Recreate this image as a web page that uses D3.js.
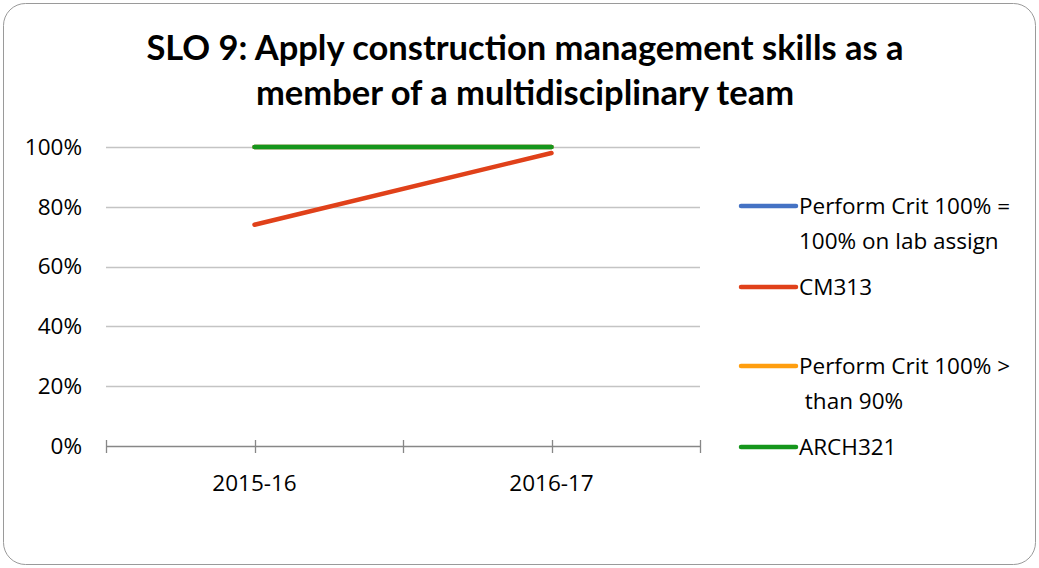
<!DOCTYPE html>
<html>
<head>
<meta charset="utf-8">
<script src="https://cdn.jsdelivr.net/npm/d3@7"></script>
<style>
  html, body { margin: 0; padding: 0; background: #fff; }
  svg { display: block; }
</style>
</head>
<body>
<div id="chart"></div>
<script>
// chart data
const categories = ['2015-16', '2016-17'];
const seriesNames = ['Perform Crit 100% = 100% on lab assign', 'CM313', 'Perform Crit 100% > than 90%', 'ARCH321'];
const perfCritLab = [1.00, 1.00];
const cm313 = [0.74, 0.98];
const perfCrit90 = [1.00, 1.00];
const arch321 = [1.00, 1.00];
const yTicks = [0, 0.2, 0.4, 0.6, 0.8, 1.0];
const legendLines = [
    ['Perform Crit 100% =', '100% on lab assign'],
    ['CM313'],
    ['Perform Crit 100% >', '\u00a0than 90%'],
    ['ARCH321']
];

const colors = ['#4472c4', '#e0411a', '#ff9e0f', '#15961c'];
const allSeries = [perfCritLab, cm313, perfCrit90, arch321];

const width = 1039, height = 568;
const font = "'Open Sans', sans-serif";
const fontSize = '22.5px';

const svg = d3.select('#chart')
    .append('svg')
    .attr('width', width)
    .attr('height', height);

// outer frame
svg.append('rect')
    .attr('x', 3.5).attr('y', 3.5)
    .attr('width', width - 7).attr('height', height - 7)
    .attr('rx', 22).attr('ry', 22)
    .attr('fill', '#fff')
    .attr('stroke', '#9a9a9a')
    .attr('stroke-width', 1);

// title
const title = svg.append('text')
    .attr('text-anchor', 'middle')
    .attr('fill', '#000')
    .style('font-family', "Lato, sans-serif")
    .style('font-weight', 'bold')
    .style('font-size', '34.5px');
title.append('tspan').attr('x', 525).attr('y', 60).text('SLO 9: Apply construction management skills as a');
title.append('tspan').attr('x', 525).attr('y', 105).text('member of a multidisciplinary team');

// scales
const x = d3.scaleBand().domain(categories).range([106, 700]);
const y = d3.scaleLinear().domain([0, 1]).range([446, 147]);

// gridlines
svg.append('g')
    .selectAll('line')
    .data(yTicks.filter(d => d > 0))
    .enter()
    .append('line')
    .attr('x1', 106).attr('x2', 700)
    .attr('y1', d => Math.round(y(d)) + 0.5)
    .attr('y2', d => Math.round(y(d)) + 0.5)
    .attr('stroke', '#c4c4c4')
    .attr('stroke-width', 1.3);

// y axis labels
const yAxis = svg.append('g')
    .attr('transform', 'translate(106,0)')
    .call(d3.axisLeft(y).tickValues(yTicks).tickFormat(d3.format('.0%')).tickSize(0).tickPadding(24));
yAxis.select('.domain').remove();
yAxis.selectAll('text')
    .style('font-family', font)
    .style('font-size', fontSize)
    .attr('fill', '#000');

// x axis with ticks at category centres and boundaries
const tickPos = [];
categories.forEach((c, i) => {
    tickPos.push(x(c));
    tickPos.push(x(c) + x.bandwidth() / 2);
});
tickPos.push(700);
const xAxisG = svg.append('g');
xAxisG.append('line')
    .attr('x1', 106).attr('x2', 700)
    .attr('y1', y(0) + 0.5).attr('y2', y(0) + 0.5)
    .attr('stroke', '#878787').attr('stroke-width', 1.3);
xAxisG.selectAll('line.tick')
    .data(tickPos)
    .enter()
    .append('line')
    .attr('class', 'tick')
    .attr('x1', d => Math.round(d) + 0.5).attr('x2', d => Math.round(d) + 0.5)
    .attr('y1', y(0) - 6).attr('y2', y(0) + 7)
    .attr('stroke', '#878787').attr('stroke-width', 1.3);
xAxisG.selectAll('text')
    .data(categories)
    .enter()
    .append('text')
    .attr('x', d => x(d) + x.bandwidth() / 2)
    .attr('y', 491)
    .attr('text-anchor', 'middle')
    .style('font-family', font)
    .style('font-size', fontSize)
    .attr('fill', '#000')
    .text(d => d);

// lines
const line = d3.line()
    .defined(d => d != null)
    .x((d, i) => x(categories[i]) + x.bandwidth() / 2)
    .y(d => y(d));

svg.append('g')
    .selectAll('path')
    .data(allSeries)
    .enter()
    .append('path')
    .attr('d', d => line(d))
    .attr('fill', 'none')
    .attr('stroke', (d, i) => colors[i])
    .attr('stroke-width', 4.5)
    .attr('stroke-linecap', 'round')
    .attr('stroke-linejoin', 'round');

// legend
const legendY = [206, 287, 366, 447];
const legend = svg.append('g')
    .selectAll('g')
    .data(seriesNames)
    .enter()
    .append('g')
    .attr('transform', (d, i) => `translate(0,${legendY[i]})`);

legend.append('line')
    .attr('x1', 741).attr('x2', 796)
    .attr('y1', 0).attr('y2', 0)
    .attr('stroke', (d, i) => colors[i])
    .attr('stroke-width', 4.5)
    .attr('stroke-linecap', 'round');

legend.each(function(d, i) {
    const t = d3.select(this).append('text')
        .attr('x', 799)
        .attr('y', 8)
        .style('font-family', font)
        .style('font-size', fontSize)
        .attr('fill', '#000');
    legendLines[i].forEach((s, j) => {
        t.append('tspan')
            .attr('x', 799)
            .attr('dy', j === 0 ? 0 : 35)
            .text(s);
    });
});
</script>
</body>
</html>
